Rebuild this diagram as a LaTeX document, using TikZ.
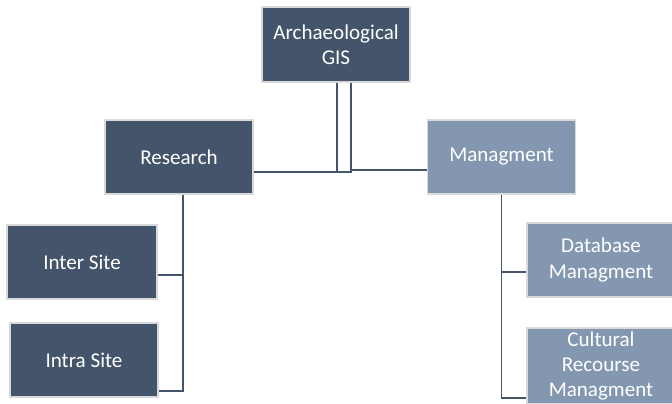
\documentclass[tikz,border=0pt]{standalone}
\usepackage{fontspec}
\setmainfont{Carlito}
\usepackage{tikz}
\usetikzlibrary{calc}
\definecolor{slateD}{HTML}{44546A}
\definecolor{slateL}{HTML}{8497B0}
\definecolor{rimG}{HTML}{D9D9D9}
\begin{document}
\begin{tikzpicture}[x=0.02cm,y=-0.02cm,
  box/.style={fill=slateD,draw=rimG,line width=0.6pt,text=white,align=center,
    font=\fontsize{12}{14.5}\selectfont,minimum width=2.96cm,minimum height=1.48cm,inner sep=0pt},
  lbox/.style={box,fill=slateL},
  link/.style={draw=slateD,line width=1.1pt}]
\useasboundingbox (0,0) rectangle (672,403);
\clip (0,0) rectangle (672,403);
\node[box,minimum height=1.5cm] (gis) at (336,44.5){Archaeological\\GIS};
\node[box] (res) at (179,157){Research};
\node[lbox] (mgt) at (501.5,157){Managment};
\node[box,minimum width=3cm] (inter) at (82,262){Inter Site};
\node[box] (intra) at (84,360){Intra Site};
\node[lbox] (db) at (601,260){Database\\Managment};
\node[lbox,minimum height=1.52cm] (crm) at (601,366){Cultural\\Recourse\\Managment};
\coordinate (jl) at (337,172);
\coordinate (jr) at (351,170);
\draw[link] (jl |- gis.south) -- (jl);
\draw[link] (res.east |- jl) -- ($(jl)+(15,0)$);
\draw[link] (jr |- gis.south) |- (mgt.west |- jr);
\draw[link] ($(res.south)+(4,0)$) |- ($(intra.east)+(0,31)$);
\draw[link] ($(inter.east)+(0,13)$) -- ++(26,0);
\draw[link] (mgt.south) |- ($(crm.west)+(0,32)$);
\draw[link] ($(db.west)+(0,12)$) -- ++(-25,0);
\end{tikzpicture}
\end{document}
